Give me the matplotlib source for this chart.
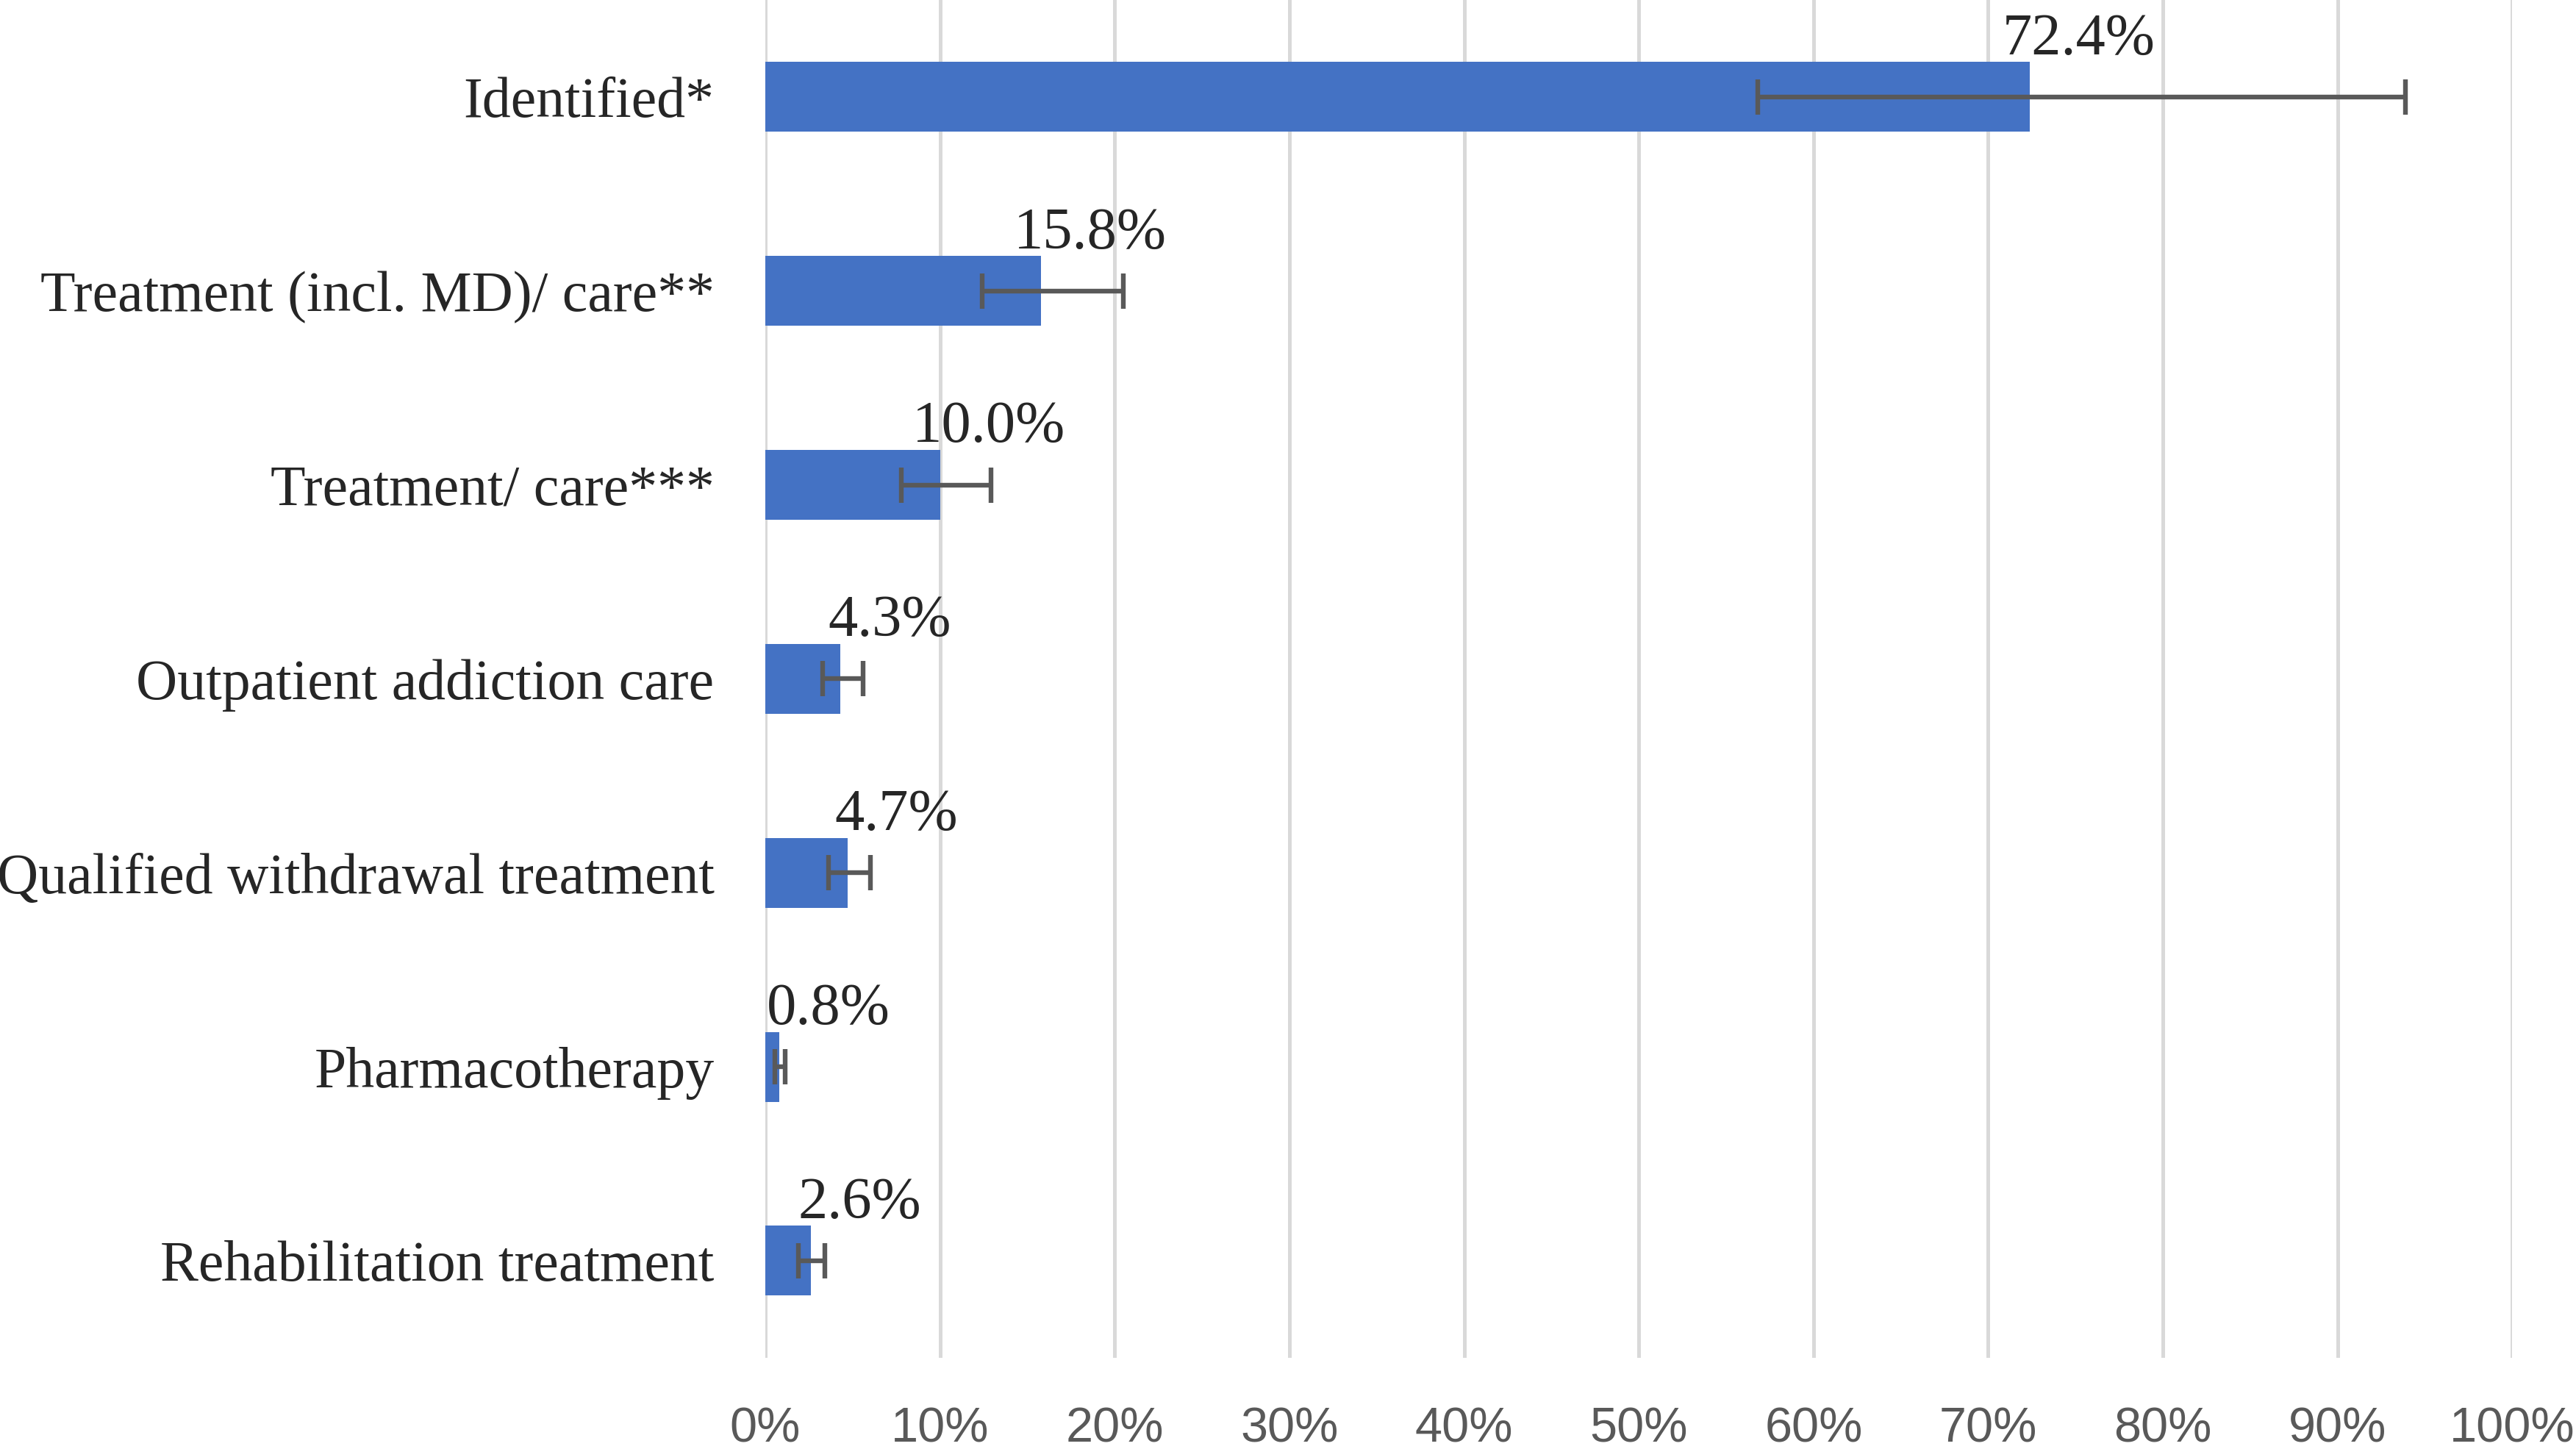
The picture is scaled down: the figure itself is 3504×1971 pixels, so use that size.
import matplotlib
matplotlib.use("Agg")
import matplotlib.pyplot as plt
import numpy as np

categories = ["Identified*", "Treatment (incl. MD)/ care**", "Treatment/ care***",
              "Outpatient addiction care", "Qualified withdrawal treatment",
              "Pharmacotherapy", "Rehabilitation treatment"]
values = [72.4, 15.8, 10.0, 4.3, 4.7, 0.8, 2.6]
ci_low = [56.8, 12.4, 7.8, 3.3, 3.6, 0.56, 1.9]
ci_high = [93.9, 20.5, 12.9, 5.6, 6.0, 1.15, 3.4]
xticks = [0, 10, 20, 30, 40, 50, 60, 70, 80, 90, 100]
xticklabels = [f"{t}%" for t in xticks]

fig = plt.figure(figsize=(35.05, 19.71), dpi=100)
ax = fig.add_axes([0.297, 0.063, 0.678, 0.937])

y = np.arange(len(categories))
vals = np.array(values)
xerr = np.vstack([vals - np.array(ci_low), np.array(ci_high) - vals])

ax.barh(y, vals, height=0.36, color="#4472C4", zorder=2)
ax.errorbar(vals, y, xerr=xerr, fmt="none", ecolor="#595959", elinewidth=4.6,
            capsize=17, capthick=4.6, zorder=3)

for v, yi in zip(values, y):
    ax.annotate(f"{v:.1f}%", xy=(v, yi), xytext=(48, 56), textcoords="offset points",
                ha="center", va="center", fontsize=58, family="Liberation Serif",
                color="#262626", zorder=4)

ax.set_ylim(len(categories) - 0.5, -0.5)
ax.set_xlim(0, 100)
ax.set_yticks(y)
ax.set_yticklabels(categories, family="Liberation Serif", fontsize=56, color="#262626")
ax.set_xticks(xticks)
ax.set_xticklabels(xticklabels, family="Liberation Sans", fontsize=48, color="#595959")
ax.tick_params(axis="both", length=0)
ax.tick_params(axis="y", pad=50)
ax.tick_params(axis="x", pad=48)
ax.grid(axis="x", color="#D9D9D9", linewidth=3.6, zorder=0)
ax.set_axisbelow(True)
for s in ax.spines.values():
    s.set_visible(False)

fig.savefig("out.png", dpi=100)
